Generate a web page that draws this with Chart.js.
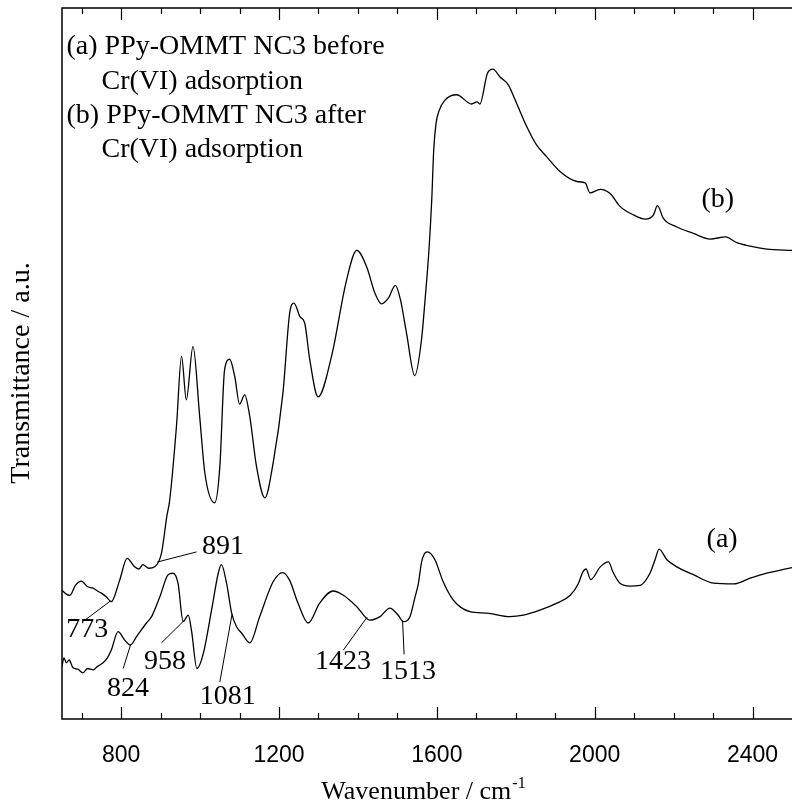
<!DOCTYPE html>
<html>
<head>
<meta charset="utf-8">
<script src="https://cdn.jsdelivr.net/npm/chart.js@4.4.1/dist/chart.umd.min.js"></script>
<style>
  body { margin: 0; background: #fff; }
  #wrap { width: 792px; height: 809px; overflow: hidden; }
</style>
</head>
<body>
<div id="wrap"><canvas id="ftir" width="800" height="809"></canvas></div>
<script>
// (a) PPy-OMMT NC3 before Cr(VI) adsorption
const waveA = [650, 655, 661, 668, 678, 690, 703, 715, 729, 740, 754, 765, 775, 792, 809, 823, 839, 864, 877, 898, 919, 931, 944, 957, 970, 978, 992, 1008, 1029, 1046, 1054, 1067, 1080, 1092, 1105, 1126, 1151, 1185, 1209, 1227, 1248, 1274, 1303, 1337, 1363, 1397, 1430, 1456, 1481, 1502, 1515, 1532, 1544, 1553, 1561, 1568, 1576, 1595, 1616, 1642, 1684, 1726, 1785, 1819, 1861, 1904, 1938, 1959, 1970, 1978, 1990, 2014, 2035, 2046, 2064, 2090, 2115, 2140, 2153, 2163, 2183, 2208, 2250, 2301, 2352, 2394, 2436, 2500];
const transA = [7.4, 8.6, 7.9, 8.3, 7.2, 7.0, 6.5, 7.1, 6.9, 7.4, 7.9, 8.6, 9.7, 12.3, 11.1, 10.4, 11.6, 13.5, 14.4, 17.2, 20.3, 20.5, 19.1, 13.7, 14.6, 12.5, 7.1, 9.2, 15.3, 20.5, 21.7, 19.1, 14.9, 13.0, 12.1, 10.7, 14.4, 19.3, 20.6, 19.5, 16.3, 13.5, 16.3, 18.0, 17.4, 15.8, 13.9, 14.4, 15.6, 14.6, 13.7, 14.4, 17.0, 19.0, 22.0, 23.2, 23.5, 22.4, 19.3, 16.7, 15.1, 14.9, 14.4, 14.6, 15.3, 16.3, 17.4, 19.1, 20.7, 21.1, 19.6, 21.4, 22.1, 20.7, 19.1, 18.7, 18.8, 20.5, 22.4, 23.9, 22.4, 21.4, 20.3, 19.1, 19.0, 19.8, 20.5, 21.3];

// (b) PPy-OMMT NC3 after Cr(VI) adsorption
const waveB = [650, 660, 670, 684, 699, 715, 729, 740, 750, 762, 775, 796, 815, 834, 845, 855, 870, 885, 902, 910, 915, 923, 940, 953, 965, 982, 999, 1012, 1037, 1050, 1062, 1075, 1088, 1100, 1113, 1126, 1143, 1164, 1185, 1210, 1227, 1238, 1253, 1265, 1278, 1299, 1333, 1371, 1397, 1422, 1443, 1460, 1477, 1495, 1508, 1523, 1544, 1561, 1570, 1580, 1587, 1592, 1598, 1606, 1620, 1650, 1688, 1702, 1709, 1728, 1742, 1760, 1781, 1802, 1828, 1853, 1878, 1912, 1955, 1976, 1988, 2014, 2039, 2064, 2098, 2128, 2149, 2159, 2174, 2208, 2250, 2293, 2331, 2360, 2394, 2436, 2500];
const transB = [18.1, 17.6, 17.4, 18.8, 19.4, 18.6, 18.4, 18.0, 17.7, 17.2, 16.5, 19.5, 22.6, 21.4, 21.1, 21.7, 21.2, 21.4, 23.3, 26.2, 28.3, 30.8, 41.1, 51.0, 44.9, 52.4, 42.5, 34.6, 30.4, 35.5, 49.1, 50.6, 48.1, 44.3, 45.6, 42.5, 35.5, 31.1, 36.0, 45.9, 57.1, 58.5, 56.6, 55.7, 50.5, 45.3, 51.0, 61.7, 65.9, 63.6, 59.9, 58.4, 59.2, 61.0, 58.9, 54.3, 48.3, 53.3, 58.9, 66.0, 73.0, 80.0, 83.8, 85.6, 87.0, 87.8, 86.5, 86.8, 86.5, 90.8, 91.4, 90.3, 89.2, 86.6, 83.3, 80.7, 79.1, 77.0, 75.6, 75.4, 74.0, 74.5, 73.9, 72.1, 70.9, 70.3, 70.9, 72.2, 70.4, 69.2, 68.3, 67.5, 67.8, 67.0, 66.5, 66.1, 65.9];

const tickLabels = [800, 1200, 1600, 2000, 2400];
const minorTicks = [700, 900, 1000, 1100, 1300, 1400, 1500, 1700, 1800, 1900, 2100, 2200, 2300];

// assigned bands and where their numbers sit (wavenumber, a.u.)
const peakText = ['773', '891', '824', '958', '1081', '1423', '1513'];
const peakWave = [773, 891, 824, 958, 1081, 1423, 1513];
const peakCurve = ['b', 'b', 'a', 'a', 'a', 'a', 'a'];
const peakTextAt = [[714, 12.5], [1058, 24.2], [817, 4.2], [911, 8.0], [1070, 3.1], [1362, 8.0], [1527, 6.6]];
const peakLeadFrom = [[708, 13.9], [991, 23.5], [805, 7.1], [902, 10.7], [1050, 5.2], [1363, 9.7], [1517, 9.1]];

const legendLines = ['(a) PPy-OMMT NC3 before', 'Cr(VI) adsorption', '(b) PPy-OMMT NC3 after', 'Cr(VI) adsorption'];

const SERIF = '"Liberation Serif", "Times New Roman", serif';

const toPoints = (xs, ys) => xs.map((w, i) => ({ x: w, y: ys[i] }));

const curves = { a: [waveA, transA], b: [waveB, transB] };
const valueAt = (key, w) => {
  const [xs, ys] = curves[key];
  for (let i = 1; i < xs.length; i++) {
    if (xs[i] >= w) {
      const t = (w - xs[i - 1]) / (xs[i] - xs[i - 1]);
      return ys[i - 1] + t * (ys[i] - ys[i - 1]);
    }
  }
  return ys[ys.length - 1];
};

const frame = {
  id: 'frame',
  afterDraw(chart) {
    const { ctx, chartArea: a, scales: { x, y } } = chart;
    ctx.save();
    ctx.strokeStyle = '#000';
    ctx.lineWidth = 1.5;
    ctx.beginPath();
    ctx.moveTo(a.right + 10, a.top);
    ctx.lineTo(a.left, a.top);
    ctx.lineTo(a.left, a.bottom);
    ctx.lineTo(a.right + 10, a.bottom);
    ctx.stroke();

    // ticks point into the plot, top and bottom
    ctx.lineWidth = 1.2;
    const tick = (v, len) => {
      const px = Math.round(x.getPixelForValue(v)) + 0.5;
      ctx.beginPath();
      ctx.moveTo(px, a.bottom);
      ctx.lineTo(px, a.bottom - len);
      ctx.moveTo(px, a.top);
      ctx.lineTo(px, a.top + len);
      ctx.stroke();
    };
    tickLabels.forEach(v => tick(v, 12));
    minorTicks.forEach(v => tick(v, 6));

    ctx.fillStyle = '#000';
    ctx.font = '28px ' + SERIF;
    ctx.textBaseline = 'middle';

    // band labels with leader lines
    ctx.lineWidth = 1;
    ctx.textAlign = 'center';
    peakText.forEach((t, i) => {
      const [lw, lv] = peakLeadFrom[i];
      const w = peakWave[i];
      ctx.beginPath();
      ctx.moveTo(x.getPixelForValue(lw), y.getPixelForValue(lv));
      ctx.lineTo(x.getPixelForValue(w), y.getPixelForValue(valueAt(peakCurve[i], w)));
      ctx.stroke();
      const [tw, tv] = peakTextAt[i];
      ctx.fillText(t, x.getPixelForValue(tw), y.getPixelForValue(tv));
    });

    // curve tags
    ctx.fillText('(a)', x.getPixelForValue(2323), y.getPixelForValue(25.2));
    ctx.fillText('(b)', x.getPixelForValue(2312), y.getPixelForValue(73.1));

    // legend block
    ctx.textAlign = 'left';
    legendLines.forEach((t, i) => {
      const indent = i % 2 ? 39.5 : 4.5;
      ctx.fillText(t, a.left + indent, a.top + 39 + i * 34.2);
    });

    // axis titles
    ctx.textAlign = 'center';
    ctx.save();
    ctx.translate(22, 373);
    ctx.rotate(-Math.PI / 2);
    ctx.fillText('Transmittance / a.u.', 0, 0);
    ctx.restore();

    ctx.font = '26px ' + SERIF;
    ctx.textAlign = 'left';
    ctx.textBaseline = 'alphabetic';
    const main = 'Wavenumber / cm';
    const wMain = ctx.measureText(main).width;
    ctx.font = '16px ' + SERIF;
    const sup = '-1';
    const wSup = ctx.measureText(sup).width;
    const x0 = 423 - (wMain + wSup) / 2;
    ctx.font = '26px ' + SERIF;
    ctx.fillText(main, x0, 799);
    ctx.font = '16px ' + SERIF;
    ctx.fillText(sup, x0 + wMain + 1, 788);
    ctx.restore();
  }
};

new Chart(document.getElementById('ftir'), {
  type: 'scatter',
  data: {
    datasets: [
      { label: '(a)', data: toPoints(waveA, transA) },
      { label: '(b)', data: toPoints(waveB, transB) }
    ]
  },
  options: {
    responsive: false,
    animation: false,
    showLine: true,
    layout: { padding: { left: 62, top: 8, right: 8, bottom: 0 } },
    elements: {
      point: { radius: 0 },
      line: { borderColor: '#000', borderWidth: 1.3, cubicInterpolationMode: 'monotone' }
    },
    plugins: { legend: { display: false }, tooltip: { enabled: false } },
    scales: {
      x: {
        type: 'linear',
        min: 650,
        max: 2500,
        grid: { display: false },
        border: { display: false },
        afterBuildTicks: s => { s.ticks = tickLabels.map(v => ({ value: v })); },
        afterFit: s => { s.height = 90; },
        ticks: {
          padding: 15,
          color: '#000',
          callback: v => String(v),
          font: { family: '"Liberation Sans", Arial, sans-serif', size: 23 }
        }
      },
      y: { display: false, min: 0, max: 100 }
    }
  },
  plugins: [frame]
});
</script>
</body>
</html>
